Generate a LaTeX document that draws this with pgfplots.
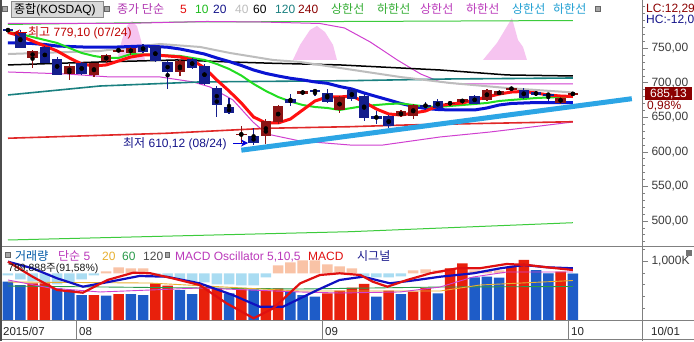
\documentclass[border=0pt]{standalone}
\usepackage{pgfplots}
\pgfplotsset{compat=1.18}
\usepackage{pgfplotstable}
\usepackage{fontspec}
\setmainfont{Liberation Sans}
\newfontfamily\kr{Noto Sans CJK KR}
\usetikzlibrary{arrows.meta}
\newcommand\fs[1]{\fontsize{#1}{#1}\selectfont}

\definecolor{upc}{HTML}{8C1414}
\definecolor{dnc}{HTML}{141E8C}
\definecolor{ma5}{HTML}{FF1010}
\definecolor{ma10}{HTML}{22DD22}
\definecolor{ma20}{HTML}{0A14D2}
\definecolor{ma40}{HTML}{BDBDBD}
\definecolor{ma120}{HTML}{1A8080}
\definecolor{ma240}{HTML}{E02828}
\definecolor{envm}{HTML}{D040D0}
\definecolor{envg}{HTML}{3CCB3C}
\definecolor{pinkf}{HTML}{F6C4F0}
\definecolor{trend}{HTML}{2CA5E5}
\definecolor{volr}{HTML}{E8200C}
\definecolor{volb}{HTML}{1E5CC8}
\definecolor{oscp}{HTML}{F9C3A6}
\definecolor{oscn}{HTML}{A9DCF2}
\definecolor{frame}{HTML}{808080}
\definecolor{lbl}{HTML}{3C3C3C}
\definecolor{vm20}{HTML}{E8B030}
\definecolor{vm60}{HTML}{2A9A4A}
\definecolor{macdr}{HTML}{E01010}
\definecolor{sign}{HTML}{1010C0}
\definecolor{dred}{HTML}{8B0000}
\definecolor{navy}{HTML}{14148A}

\pgfplotstableread{
i o h l c
2 736 748 722 746
5 713 727 704 725
7 711 729 708 728
8 731 742 729 741
9 746 751 744 747.5
10 742.5 752 741 750.5
14 715.5 733 709.6 731.3
19 625 637 613 626.5
21 622.6 647 612 645.4
22 643 668 641 667
24 684 689 683 688
27 660 681 657 679
32 651.6 660 650 659
33 651.6 670 648 668.6
36 670 674 667 671
37 672 677 670 676
39 675.8 691 674 690.3
40 683 689 682 687.8
41 690.3 694 689 692.8
45 671 680 669 678.5
46 683 687 681 685.13
}\upT
\pgfplotstableread{
i o h l c
0 778 779.1 773 775
1 773 776 750 751
3 751.5 753 728 729
4 735 737 711 712
6 728 730 712 713
11 754 756 743 744.5
12 753 754 730 732
13 730 731 691 715.5
15 733.8 736 720 721.7
16 725 727 697 698.5
17 692.8 695 650.7 668.6
18 664.6 678 655 656.5
20 623 635 610.12 613
23 676.8 684.5 666 671
25 689.3 690 680.6 687
26 685.5 691 671 672.5
28 689.3 693 674 676
29 681.6 684 644.4 649.3
30 651.5 659 641 648
31 651.6 653 634 637
34 668.6 672.5 661.3 665.5
35 674.4 676 662 664
38 680.6 682 669 670
42 689.3 692 677 678.3
43 686.4 688 681 683
44 684.5 686 673 681.6
}\dnT
\pgfplotstableread{
i v
2 626
3 626
7 430
9 447
12 626
13 586
16 570
17 543
19 526
21 502
22 543
26 459
27 502
28 553
29 615
31 502
33 486
34 553
36 878
37 961
41 905
42 1017
45 821
}\volR
\pgfplotstableread{
i v
0 653
1 598
4 543
5 514
6 430
8 419
10 447
11 430
14 514
15 447
18 459
20 526
23 486
24 430
25 402
30 402
32 447
35 459
38 727
39 737
40 720
43 849
44 794
46 790
}\volB
\pgfplotstableread{
i v
8 2
9 6
10 5
11 5
22 8
23 11
24 13
25 13
26 9
27 7
28 5
33 3
34 4
35 3
36 5
37 4
38 3
39 3
40 3
41 5
42 4
43 1
}\oscP
\pgfplotstableread{
i v
0 -2
1 -6
2 -8
3 -10
4 -11
5 -9
6 -6
7 -2
12 -3
13 -4
14 -6
15 -8
16 -9
17 -11
18 -11
19 -12
20 -12
21 -4
29 -3
30 -4
31 -4
32 -3
44 -2
45 -3
46 -2
}\oscN

\begin{document}
\begin{tikzpicture}[x=1pt,y=1pt]
\fill[white] (0,0) rectangle (694,341);

% ===== main price panel =====
\begin{axis}[
  at={(0pt,95pt)}, anchor=south west, scale only axis,
  width=642pt, height=246pt,
  xmin=-0.651, xmax=51.63, ymin=463.8, ymax=819.9,
  axis x line=none, axis y line*=right,
  axis line style={draw=frame, line width=1pt},
  ytick={500,550,600,650,700,750},
  yticklabels={{500,00},{550,00},{600,00},{650,00},{700,00},{750,00}},
  minor ytick={470,480,...,810},
  tick align=outside, major tick length=6pt, minor tick length=3pt,
  tick style={draw=frame, line width=0.8pt},
  yticklabel style={font=\fs{12}, text=lbl},
]
% pink areas
\addplot[fill=pinkf, draw=none] coordinates {(8.88,733.1)(9.28,762.0)(9.69,782.3)(10.1,789.5)(10.5,782.3)(10.83,762.0)(11.16,733.1)} -- cycle;
\addplot[fill=pinkf, draw=none] coordinates {(23.2,733.1)(23.78,754.8)(24.59,776.5)(25.16,782.3)(25.81,773.6)(26.47,754.8)(26.79,733.1)} -- cycle;
\addplot[fill=pinkf, draw=none] coordinates {(38.68,733.1)(39.82,757.7)(40.31,772.1)(41.04,793.9)(41.53,762.0)(41.94,751.9)(42.26,733.1)} -- cycle;
% envelopes
\addplot[envg, line width=1pt] coordinates {(0,784.5)(14.82,788.1)(27.85,788.8)(46,790.2)};
\addplot[envg, line width=1pt] coordinates {(0,472.5)(27.85,484.5)(46,497.5)};
\addplot[envm, line width=1pt] coordinates {(0,785.9)(9.12,785.9)(16.2,788.8)(20.5,788.1)(25.4,785.9)(27.4,779.4)(29.5,759.1)(31.7,733.1)(33.6,712.8)(35.2,701.3)(36.8,698.4)(46,698.4)};
\addplot[envm, line width=1pt] coordinates {(0,715.7)(4.8,712.8)(8.3,708.5)(12.38,708.5)(15.07,701.3)(16.45,694.0)(18.32,675.2)(19.95,643.3)(21.09,625.9)(23.78,615.8)(27.85,610.0)(30.54,610.0)(35.18,621.6)(39.25,628.8)(43.32,637.5)(46,643.3)};
% moving averages
\addplot[ma240, line width=1.6pt] coordinates {(0,619.8)(12.95,627.0)(21.09,634.2)(27.85,636.5)(32.49,639.0)(39.25,641.4)(46,643.7)};
\addplot[ma120, line width=1.6pt] coordinates {(0,682.4)(7.49,695.4)(15.64,701.3)(27.85,703.1)(36,705.6)(46,707.0)};
\addplot[black, line width=1.5pt] coordinates {(0,725.9)(7.49,730.2)(13.76,733.1)(18.08,730.2)(21.58,728.3)(27.04,725.9)(35.18,718.6)(40.64,711.4)(46,709.9)};
\addplot[ma40, line width=2pt] coordinates {(0,741.7)(7.49,746.1)(12.38,756.2)(15.64,751.9)(18.08,743.2)(21.58,733.1)(23.78,730.2)(27.04,721.5)(31.92,708.5)(36.0,699.8)(40.64,692.5)(46,686.0)};
\addplot[ma20, line width=3pt] coordinates {(0,757.7)(1,757.7)(2,756.9)(3,755.5)(4,753.3)(5,752.6)(6,751.9)(7,751.5)(8,751.5)(9,751.9)(10,752.6)(11,753.3)(12,752.6)(13,751.5)(14,749.0)(15,745.4)(16,741.7)(17,736.0)(18,730.9)(19,725.1)(20,718.6)(21,713.6)(22,709.9)(23,706.6)(24,704.2)(25,701.3)(26,699.3)(27,694.7)(28,691.1)(29,685.3)(30,680.2)(31,675.2)(32,670.1)(33,665.8)(34,662.9)(35,661.4)(36,660.7)(37,660.7)(38,660.7)(39,663.6)(40,667.9)(41,670.1)(42,670.8)(43,671.5)(44,671.5)(45,671.5)(46,671.5)};
\addplot[ma10, line width=2pt] coordinates {(0,773.6)(1,770.7)(2,766.3)(3,762.0)(4,757.7)(5,750.4)(6,743.2)(7,738.9)(8,736.0)(9,736.0)(10,741.7)(11,741.0)(12,740.3)(13,739.6)(14,738.9)(15,736.0)(16,733.1)(17,727.3)(18,720.1)(19,710.6)(20,698.4)(21,688.2)(22,679.5)(23,673.0)(24,667.9)(25,665.0)(26,663.6)(27,660.7)(28,663.6)(29,666.5)(30,667.9)(31,669.4)(32,670.1)(33,667.9)(34,665.8)(35,665.0)(36,666.5)(37,667.9)(38,669.4)(39,670.8)(40,673.7)(41,675.2)(42,676.6)(43,678.0)(44,678.8)(45,679.5)(46,680.2)};
\addplot[ma5, line width=3pt] coordinates {(0,773)(1,767.8)(2,760.5)(3,753.3)(4,746.1)(5,736.0)(6,727.3)(7,724.4)(8,725.9)(9,731.6)(10,737.4)(11,740.3)(12,740.3)(13,738.9)(14,737.4)(15,733.1)(16,721.5)(17,704.2)(18,688.2)(19,670.8)(20,650.5)(21,641.9)(22,641.9)(23,647.6)(24,660.7)(25,673.7)(26,679.5)(27,679.5)(28,680.9)(29,672.3)(30,662.1)(31,654.9)(32,653.4)(33,656.3)(34,659.2)(35,666.5)(36,669.4)(37,670.8)(38,675.2)(39,679.5)(40,683.8)(41,686.7)(42,687.5)(43,685.3)(44,682.4)(45,680.9)(46,680.2)};
% candles: wicks
\addplot[only marks, mark=none, error bars/.cd, y dir=both, y explicit, error mark=none,
  error bar style={draw=upc, line width=1.2pt}]
  table[x=i, y expr={(\thisrow{h}+\thisrow{l})/2}, y error expr={(\thisrow{h}-\thisrow{l})/2}] {\upT};
\addplot[only marks, mark=none, error bars/.cd, y dir=both, y explicit, error mark=none,
  error bar style={draw=dnc, line width=1.2pt}]
  table[x=i, y expr={(\thisrow{h}+\thisrow{l})/2}, y error expr={(\thisrow{h}-\thisrow{l})/2}] {\dnT};
% candles: bodies
\addplot[only marks, mark=none, error bars/.cd, y dir=both, y explicit, error mark=none,
  error bar style={draw=upc, line width=10.5pt}]
  table[x=i, y expr={(\thisrow{o}+\thisrow{c})/2}, y error expr={max(abs(\thisrow{c}-\thisrow{o})/2,0.7)}] {\upT};
\addplot[only marks, mark=none, error bars/.cd, y dir=both, y explicit, error mark=none,
  error bar style={draw=dnc, line width=10.5pt}]
  table[x=i, y expr={(\thisrow{o}+\thisrow{c})/2}, y error expr={max(abs(\thisrow{c}-\thisrow{o})/2,0.7)}] {\dnT};
% trend line
\addplot[trend, line width=5pt] coordinates {(19.0,602.5)(50.8,677)};
\end{axis}

% ===== MACD histogram =====
\begin{axis}[at={(0pt,20.3pt)}, anchor=south west, scale only axis, width=642pt, height=74.2pt,
  xmin=-0.651, xmax=51.63, ymin=-47.4, ymax=26.8, hide axis]
\addplot[ybar, bar width=10.5pt, bar shift=0pt, fill=oscp, draw=none] table[x=i,y=v]{\oscP};
\addplot[ybar, bar width=10.5pt, bar shift=0pt, fill=oscn, draw=none] table[x=i,y=v]{\oscN};
\end{axis}

% ===== volume =====
\begin{axis}[at={(0pt,20.3pt)}, anchor=south west, scale only axis, width=642pt, height=74.2pt,
  xmin=-0.651, xmax=51.63, ymin=0, ymax=1242.9,
  axis x line=none, axis y line*=right, axis line style={draw=frame, line width=1pt},
  ytick={1000}, yticklabels={{1{,}000K}}, minor ytick={200,400,600,800,1200},
  tick align=outside, major tick length=6pt, minor tick length=3pt,
  tick style={draw=frame, line width=0.8pt},
  yticklabel style={font=\fs{12}, text=lbl}]
\addplot[ybar, bar width=10.5pt, bar shift=0pt, fill=volr, draw=none] table[x=i,y=v]{\volR};
\addplot[ybar, bar width=10.5pt, bar shift=0pt, fill=volb, draw=none] table[x=i,y=v]{\volB};
\addplot[vm60, line width=0.9pt] coordinates {(0,581)(23.78,531)(35.18,564)(46,573)};
\addplot[vm20, line width=0.9pt] coordinates {(0,648)(11.56,631)(23.78,497)(35.18,497)(38.44,598)(46,673)};
\addplot[envm, line width=0.9pt] coordinates {(0,682)(3.42,548)(7.49,481)(11.56,514)(15.64,548)(19.71,514)(23.78,481)(27.04,464)(31.92,481)(35.18,564)(37.87,732)(40.64,816)(46,816)};
\end{axis}

% ===== MACD lines =====
\begin{axis}[at={(0pt,20.3pt)}, anchor=south west, scale only axis, width=642pt, height=74.2pt,
  xmin=-0.651, xmax=51.63, ymin=-47.4, ymax=26.8, hide axis]
\addplot[sign, line width=2.2pt] coordinates {(0,11.6)(2.0,5)(4.0,-5)(6.1,-13.4)(8.3,-8.4)(10.7,-2.7)(12.9,-3.4)(15.6,-10)(18.3,-21.7)(20.5,-33.4)(22.4,-33.4)(25.2,-16.7)(27.0,-6.7)(28.9,-3.4)(31.1,-10)(33.3,-6.7)(35.2,-3.4)(37.9,0)(40.1,5)(42,8.3)(43.9,6)(46,5)};
\addplot[macdr, line width=2.2pt] coordinates {(0,11.6)(2.0,-3.4)(4.0,-16.7)(6.1,-19.4)(8.1,-6.7)(10.2,0.6)(11.6,0)(13.4,-5)(15.6,-11.7)(17.8,-30)(20,-45)(21.6,-35)(23.8,-10)(25.4,-1.7)(27.0,0)(28.7,-1.7)(29.7,-8.4)(30.9,-13.4)(32.5,-6.7)(34.4,0)(36.6,5)(38.4,5)(40.6,9.3)(42.3,8.3)(43.9,6)(46,3.3)};
\end{axis}

% ===== frame lines =====
\draw[frame, line width=1.2pt] (0,94.5) -- (694,94.5);
\draw[frame, line width=1.2pt] (0,20.3) -- (694,20.3);
\draw[frame, line width=1.2pt] (0,1.8) -- (694,1.8);
\draw[frame, line width=1pt] (642,0) -- (642,341);
\draw[frame, line width=1pt] (76,1.8) -- (76,20.3);
\draw[frame, line width=1pt] (322,1.8) -- (322,20.3);
\draw[frame, line width=1pt] (568,1.8) -- (568,20.3);
\draw[black!70, line width=2.4pt] (1.2,0) -- (1.2,341);

% ===== top legend =====
\draw[fill=black!15, draw=black!45] (11,340) rectangle (103,324);
\draw[fill=black!35, draw=black!60, line width=0.4pt] (2.5,335) rectangle (7.5,330);
\draw[fill=black!35, draw=black!60, line width=0.4pt] (104,335) rectangle (109,330);
\draw[fill=black!35, draw=black!60, line width=0.4pt] (595,335) rectangle (600,330);
\begin{scope}[every node/.style={anchor=base west, inner sep=0pt, font=\fs{12}}]
\node at (14,327.5) {{\kr 종합}(KOSDAQ)};
\node[text=envm!85!black] at (117,327.5) {\kr 종가 단순};
\node[text=ma5!90!black] at (180,327.5) {5};
\node[text=ma10!85!black] at (195,327.5) {10};
\node[text=navy] at (213,327.5) {20};
\node[text=ma40] at (235,327.5) {40};
\node[text=black] at (253,327.5) {60};
\node[text=ma120] at (275,327.5) {120};
\node[text=dred] at (298,327.5) {240};
\node[text=envg!85!black] at (331,327.5) {\kr 상한선};
\node[text=envg!85!black] at (377,327.5) {\kr 하한선};
\node[text=envm!90!black] at (420,327.5) {\kr 상한선};
\node[text=envm!90!black] at (466,327.5) {\kr 하한선};
\node[text=cyan!70!teal] at (512,327.5) {\kr 상한선};
\node[text=cyan!70!teal] at (553,327.5) {\kr 하한선};
\node[text=dred] at (646,328) {LC:12,29};
\node[text=navy] at (646,317) {HC:-12,06};
\end{scope}

% ===== lower legend =====
\draw[fill=black!35, draw=black!60, line width=0.4pt] (5.5,88.5) rectangle (10,84);
\draw[fill=black!35, draw=black!60, line width=0.4pt] (165,88.5) rectangle (169.5,84);
\begin{scope}[every node/.style={anchor=base west, inner sep=0pt, font=\fs{12}}]
\node[text=teal!70!blue] at (15,81) {\kr 거래량};
\node[text=envm!90!black] at (58,81) {{\kr 단순} 5};
\node[text=vm20] at (102,81) {20};
\node[text=vm60] at (122,81) {60};
\node[text=black!70] at (143,81) {120};
\node[text=envm!90!black] at (175,81) {MACD Oscillator 5,10,5};
\node[text=macdr] at (308,81) {MACD};
\node[text=navy] at (357,81) {\kr 시그널};
\node[text=black!90, font=\fs{10.5}] at (8,69.5) {789,888{\kr 주}(91,58\%)};
\end{scope}

% ===== annotations =====
\node[anchor=base west, inner sep=0pt, font=\fs{12}, text=red!75!black] at (28,305) {{\kr 최고} 779,10 (07/24)};
\draw[red!80!black, line width=1pt, -{Stealth[length=7pt,width=7pt]}] (27,308) -- (13,308);
\node[anchor=base west, inner sep=0pt, font=\fs{12}, text=navy] at (123,193.5) {{\kr 최저} 610,12 (08/24)};
\draw[blue!85!black, line width=1pt, -{Stealth[length=7pt,width=7pt]}] (233,198) -- (248,198);

% ===== price box =====
\fill[dred] (645,254) rectangle (692,241);
\node[anchor=center, inner sep=0pt, font=\fs{12}, text=white] at (668.5,247.3) {685,13};
\node[anchor=base west, inner sep=0pt, font=\fs{12}, text=dred] at (647,231.5) {0,98\%};
\fill[black!55] (686,91) rectangle (692,85);

% ===== dates =====
\begin{scope}[every node/.style={anchor=base west, inner sep=0pt, font=\fs{11.5}, text=black!85}]
\node at (3,6) {2015/07};
\node at (79,6) {08};
\node at (325,6) {09};
\node at (571,6) {10};
\node at (651,6) {10/01};
\end{scope}

\pgfresetboundingbox
\path[use as bounding box] (0,0) rectangle (694,341);
\end{tikzpicture}
\end{document}
